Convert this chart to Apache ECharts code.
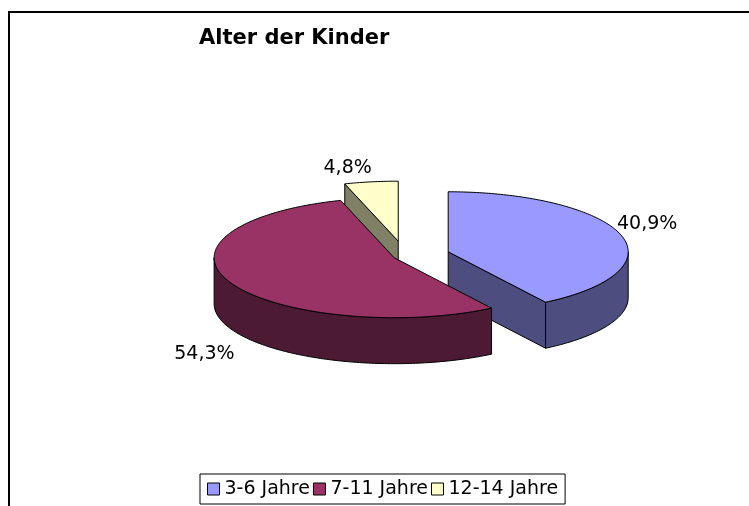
<!DOCTYPE html>
<html>
<head>
<meta charset="utf-8">
<script src="https://cdn.jsdelivr.net/npm/echarts@6/dist/echarts.min.js"></script>
<style>
  html, body { margin: 0; padding: 0; background: #fff; }
  #chart { width: 749px; height: 506px; }
</style>
</head>
<body>
<div id="chart"></div>
<script>
// Daten
var categories = ['3-6 Jahre', '7-11 Jahre', '12-14 Jahre'];
var shares = [40.9, 54.3, 4.8];

// Aussehen
var topColors = ['#9999FF', '#993366', '#FFFFCC'];
var sideColors = ['#4D4D80', '#4D1A33', '#808066'];
var explode = [45, 12, 45];
var drawOrder = [2, 0, 1]; // hinten -> vorne

var cx = 405, cy = 256, rx = 180, ry = 60, depth = 46;
var FONT = '"DejaVu Sans", Verdana, sans-serif';
var DEG = Math.PI / 180;

function pt(x0, y0, a, dy) {
    return [x0 + rx * Math.sin(a), y0 - ry * Math.cos(a) + (dy || 0)];
}

function arc(x0, y0, a0, a1, dy) {
    var pts = [];
    var n = Math.max(2, Math.ceil((a1 - a0) / DEG));
    for (var i = 0; i <= n; i++) {
        pts.push(pt(x0, y0, a0 + (a1 - a0) * i / n, dy));
    }
    return pts;
}

function faceStyle(fill) {
    return { fill: fill, stroke: '#000', lineWidth: 1, lineJoin: 'round' };
}

function renderSlice(idx) {
    return function (params, api) {
        var total = shares.reduce(function (s, v) { return s + v; }, 0);
        var before = 0;
        for (var i = 0; i < idx; i++) before += shares[i];
        var a0 = before / total * 2 * Math.PI;
        var a1 = (before + shares[idx]) / total * 2 * Math.PI;
        var mid = (a0 + a1) / 2;

        // explodiert entlang der Winkelhalbierenden
        var ox = cx + explode[idx] * Math.sin(mid);
        var oy = cy - explode[idx] * Math.cos(mid) * ry / rx;

        var children = [];
        var side = sideColors[idx];

        // Schnittflaechen
        if (Math.sin(a0) < -1e-9) {
            var p0 = pt(ox, oy, a0);
            children.push({ type: 'polygon', shape: { points: [[ox, oy], p0, [p0[0], p0[1] + depth], [ox, oy + depth]] }, style: faceStyle(side) });
        }
        if (Math.sin(a1) > 1e-9) {
            var p1 = pt(ox, oy, a1);
            children.push({ type: 'polygon', shape: { points: [[ox, oy], p1, [p1[0], p1[1] + depth], [ox, oy + depth]] }, style: faceStyle(side) });
        }

        // Mantel (nur vordere Haelfte sichtbar)
        var s = Math.max(a0, Math.PI / 2), e = Math.min(a1, 3 * Math.PI / 2);
        if (e > s) {
            var wall = arc(ox, oy, s, e, 0).concat(arc(ox, oy, s, e, depth).reverse());
            children.push({ type: 'polygon', shape: { points: wall }, style: faceStyle(side) });
        }

        // Deckel
        children.push({ type: 'polygon', shape: { points: [[ox, oy]].concat(arc(ox, oy, a0, a1, 0)) }, style: faceStyle(topColors[idx]) });

        // Beschriftung
        var sn = Math.sin(mid), cs = Math.cos(mid);
        var front = cs < 0;
        var lx = ox + (rx - 4) * sn;
        var ly = oy - (ry + 4) * cs + (front ? depth + 14 : 0);
        children.push({
            type: 'text',
            style: {
                text: String(shares[idx]).replace('.', ',') + '%',
                x: lx, y: ly,
                fill: '#000',
                font: '19px ' + FONT,
                align: sn > 0.1 ? 'left' : (sn < -0.1 ? 'right' : 'center'),
                verticalAlign: front ? 'top' : 'bottom'
            }
        });

        return { type: 'group', children: children };
    };
}

var series = drawOrder.map(function (idx, k) {
    return {
        name: categories[idx],
        type: 'custom',
        coordinateSystem: 'none',
        z: 2 + k,
        silent: true,
        itemStyle: { color: topColors[idx], borderColor: '#000', borderWidth: 1 },
        renderItem: renderSlice(idx),
        data: [shares[idx]]
    };
});

var myChart = echarts.init(document.getElementById('chart'));

var option = {
    animation: false,
    backgroundColor: '#fff',
    title: {
        text: 'Alter der Kinder',
        left: 199,
        top: 28,
        padding: 0,
        textStyle: { fontFamily: FONT, fontSize: 21, fontWeight: 'bold', color: '#000', lineHeight: 21 }
    },
    legend: {
        data: categories,
        left: 200,
        top: 474,
        itemGap: 3,
        itemWidth: 12,
        itemHeight: 12,
        icon: 'rect',
        padding: [5, 7],
        borderColor: '#000',
        borderWidth: 1,
        selectedMode: false,
        itemStyle: { borderColor: '#000', borderWidth: 1 },
        textStyle: { fontFamily: FONT, fontSize: 19, color: '#000', lineHeight: 20 }
    },
    graphic: [{
        type: 'rect',
        silent: true,
        z: -10,
        shape: { x: 9, y: 12, width: 900, height: 700 },
        style: { fill: 'none', stroke: '#000', lineWidth: 2 }
    }],
    series: series
};

myChart.setOption(option, true);
</script>
</body>
</html>
